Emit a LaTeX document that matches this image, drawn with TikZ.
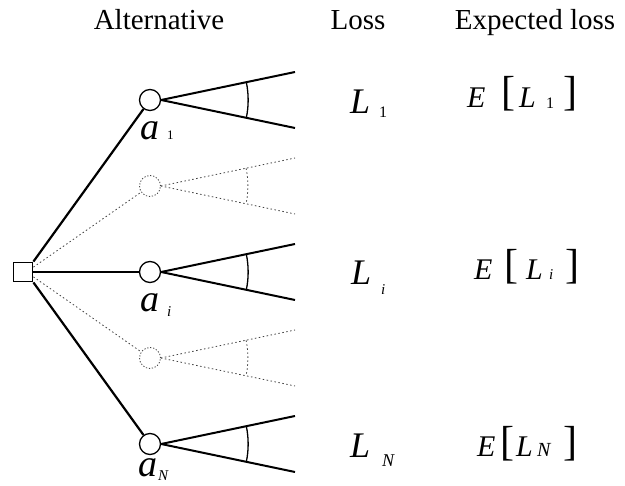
\documentclass[tikz,border=0pt]{standalone}
\usepackage{fontspec}
\setmainfont{Liberation Serif}
\usetikzlibrary{calc}
\begin{document}
\begin{tikzpicture}[x=1pt,y=-1pt,
  dec/.style={draw, line width=1.8pt, minimum size=19pt, inner sep=0pt},
  chance/.style={circle, draw, line width=1.3pt, minimum size=21pt, inner sep=0pt},
  ghost/.style={circle, draw=black!75, dash pattern=on 1.2pt off 1.8pt, line width=0.8pt, minimum size=21pt, inner sep=0pt},
  main/.style={line width=2.2pt},
  faint/.style={draw=black!75, line width=0.8pt, dash pattern=on 1.5pt off 2.5pt},
  branch/.style={line width=2pt},
  angarc/.style={line width=1.3pt},
  txt/.style={anchor=base west, inner sep=0pt},
  hdr/.style={font=\fontsize{29}{34}\selectfont, anchor=base, inner sep=0pt},
]
\useasboundingbox (0,0) rectangle (625,486);
% headers
\node[hdr] (h1) at (159,30) {Alternative};
\node[hdr] (h2) at (358,30) {Loss};
\node[hdr] (h3) at (535,30) {Expected loss};
% nodes
\node[dec] (d) at (23,272) {};
\node[chance] (a1) at (150,100) {};
\node[ghost] (g1) at (150,186) {};
\node[chance] (ai) at (150,272) {};
\node[ghost] (g2) at (150,358) {};
\node[chance] (aN) at (150,444) {};
% main connectors
\draw[main] (d.north east) -- (a1);
\draw[main] (d.east) -- (ai);
\draw[main] (d.south east) -- (aN);
\draw[faint] (d.25) -- (g1);
\draw[faint] (d.-25) -- (g2);
% branches
\foreach \n/\y in {a1/100, ai/272, aN/444} {
  \coordinate (\n-u) at (295,\y-28);
  \coordinate (\n-d) at (295,\y+28);
  \draw[branch] (\n.east) -- (\n-u);
  \draw[branch] (\n.east) -- (\n-d);
  \draw[angarc] ($(\n.east)+(85.2,-17.6)$) arc[start angle=11.7, end angle=-11.7, radius=87pt];
}
\foreach \n/\y in {g1/186, g2/358} {
  \coordinate (\n-u) at (295,\y-28);
  \coordinate (\n-d) at (295,\y+28);
  \draw[faint] (\n.east) -- (\n-u);
  \draw[faint] (\n.east) -- (\n-d);
  \draw[faint] ($(\n.east)+(85.2,-17.6)$) arc[start angle=11.7, end angle=-11.7, radius=87pt];
}
% alternative labels
\node[txt, font=\fontsize{38}{40}\selectfont\itshape] (la1) at (140,140) {a};
\node[txt, font=\fontsize{13}{14}\selectfont] (sa1) at (167,140) {1};
\node[txt, font=\fontsize{38}{40}\selectfont\itshape] (lai) at (140,312) {a};
\node[txt, font=\fontsize{15}{16}\selectfont\itshape] (sai) at (167,317) {i};
\node[txt, font=\fontsize{38}{40}\selectfont\itshape] (laN) at (138,477) {a};
\node[txt, font=\fontsize{15}{16}\selectfont\itshape] (saN) at (158,481) {N};
% loss labels
\node[txt, font=\fontsize{36}{40}\selectfont\itshape] (L1) at (350,114) {L};
\node[txt, font=\fontsize{16}{18}\selectfont] (L1s) at (379,118) {1};
\node[txt, font=\fontsize{36}{40}\selectfont\itshape] (Li) at (351,285) {L};
\node[txt, font=\fontsize{15}{16}\selectfont\itshape] (Lis) at (381,295) {i};
\node[txt, font=\fontsize{36}{40}\selectfont\itshape] (LN) at (350,458) {L};
\node[txt, font=\fontsize{18}{20}\selectfont\itshape] (LNs) at (382,467) {N};
% expected loss labels
\node[txt, font=\fontsize{30}{34}\selectfont\itshape] (E1) at (467,108) {E};
\node[txt, font=\fontsize{42}{44}\selectfont] (E1l) at (501,106) {[};
\node[txt, font=\fontsize{30}{34}\selectfont\itshape] (E1L) at (519,108) {L};
\node[txt, font=\fontsize{16}{18}\selectfont] (E1s) at (546,109) {1};
\node[txt, font=\fontsize{42}{44}\selectfont] (E1r) at (563,106) {]};
\node[txt, font=\fontsize{30}{34}\selectfont\itshape] (Ei) at (474,280) {E};
\node[txt, font=\fontsize{42}{44}\selectfont] (Eil) at (504,279) {[};
\node[txt, font=\fontsize{30}{34}\selectfont\itshape] (EiL) at (526,280) {L};
\node[txt, font=\fontsize{15}{16}\selectfont\itshape] (Eis) at (549,280) {i};
\node[txt, font=\fontsize{42}{44}\selectfont] (Eir) at (565,279) {]};
\node[txt, font=\fontsize{30}{34}\selectfont\itshape] (EN) at (477,457) {E};
\node[txt, font=\fontsize{42}{44}\selectfont] (ENl) at (500,456) {[};
\node[txt, font=\fontsize{30}{34}\selectfont\itshape] (ENL) at (516,457) {L};
\node[txt, font=\fontsize{20}{22}\selectfont\itshape] (ENs) at (537,457) {N};
\node[txt, font=\fontsize{42}{44}\selectfont] (ENr) at (563,456) {]};
\end{tikzpicture}
\end{document}
